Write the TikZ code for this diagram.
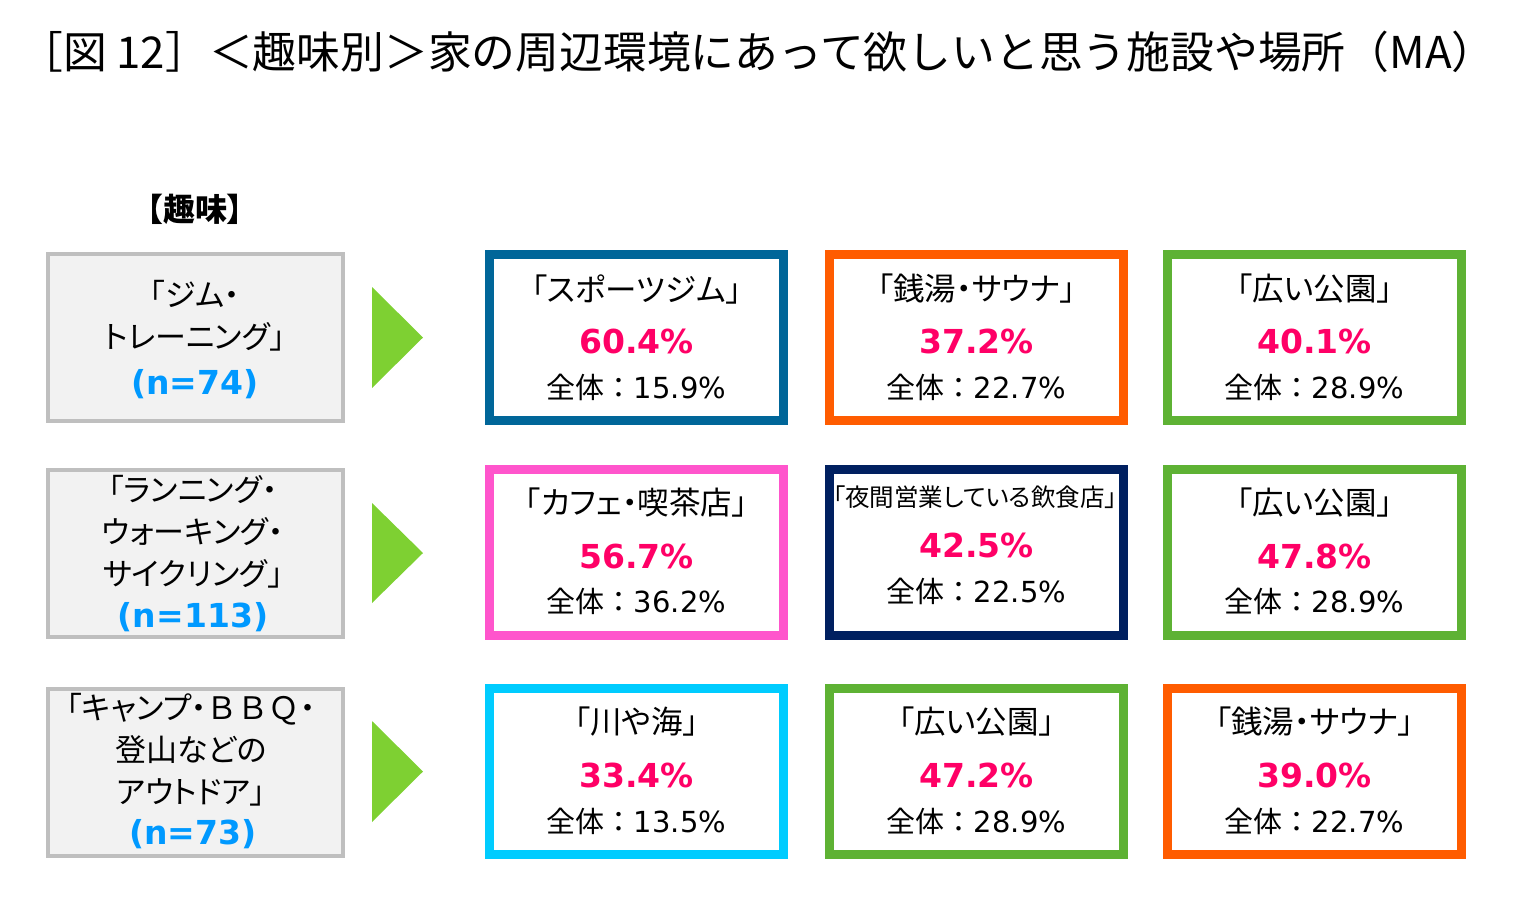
\documentclass[tikz,border=0pt]{standalone}
\usepackage{fontspec}
\setmainfont{Noto Sans CJK JP}[RawFeature=+palt]
\newfontfamily\fullfont{Noto Sans CJK JP}
\newfontfamily\numfont{DejaVu Sans}
\usetikzlibrary{positioning}
\definecolor{framegray}{RGB}{191,191,191}
\definecolor{fillgray}{RGB}{242,242,242}
\definecolor{arrowgreen}{RGB}{126,208,50}
\definecolor{frameblue}{RGB}{0,102,153}
\definecolor{frameorange}{RGB}{255,92,0}
\definecolor{framegreen}{RGB}{94,178,52}
\definecolor{framepink}{RGB}{255,85,204}
\definecolor{framenavy}{RGB}{0,32,96}
\definecolor{framecyan}{RGB}{0,204,255}
\definecolor{ratered}{RGB}{255,0,102}
\definecolor{countblue}{RGB}{0,153,255}

\begin{document}
\begin{tikzpicture}
[x=1pt, y=-1pt, font=\fontsize{30}{36}\selectfont,
% STYLES
% The title style is used for the heading line
title/.style={anchor=west, inner sep=0pt, font=\fullfont\fontsize{43.8}{52}\selectfont},
header/.style={inner sep=0pt, font=\bfseries\fontsize{32}{38}\selectfont},
% The hobby style is used to draw the grey boxes on the left
hobby/.style={rectangle, draw=framegray, fill=fillgray, line width=4pt, minimum width=295pt, minimum height=167pt, inner sep=0pt},
hobbytext/.style={inner sep=0pt, align=center, font=\fontsize{31}{42}\selectfont},
count/.style={inner sep=0pt, text=countblue, font=\numfont\bfseries\fontsize{33}{40}\selectfont},
% The result style is used to draw the framed boxes
result/.style={rectangle, draw=#1, fill=white, line width=9pt, minimum width=294pt, minimum height=166pt, inner sep=0pt},
place/.style={inner sep=0pt, font=\fontsize{31.5}{38}\selectfont},
rate/.style={inner sep=0pt, text=ratered, font=\numfont\bfseries\fontsize{33}{40}\selectfont},
total/.style={inner sep=0pt, font=\fullfont\fontsize{29}{35}\selectfont}]
\useasboundingbox (0,0) rectangle (1526,898);
% Title
\node [title] (title) at (19,52) {［図 12］＜趣味別＞家の周辺環境にあって欲しいと思う施設や場所（MA）};
\node [header] (header) at (195,209) {【趣味】};
% Draw hobbies
\node [hobby] (hobby1) at (195.5,337.5) {};
\node [hobby] (hobby2) at (195.5,553) {};
\node [hobby] (hobby3) at (195.5,772) {};
\node [hobbytext] (text1) at (195,316) {「ジム・\\トレーニング」};
\node [count] (count1) at (195,384) {(n=74)};
\node [hobbytext] (text2) at (193,532) {「ランニング・\\ウォーキング・\\サイクリング」};
\node [count] (count2) at (193,617) {(n=113)};
\node [hobbytext] (text3) at (191,750) {「キャンプ・{\fullfont ＢＢＱ}・\\登山などの\\アウトドア」};
\node [count] (count3) at (193,834) {(n=73)};
% Green arrows
\fill [arrowgreen] (372,287) -- (423,337.5) -- (372,388) -- cycle;
\fill [arrowgreen] (372,503) -- (423,553) -- (372,603) -- cycle;
\fill [arrowgreen] (372,721) -- (423,771.5) -- (372,822) -- cycle;
%%%%%%%%%%%%%%%
% Draw results
\node [result=frameblue] (gym) at (636.5,337.5) {};
\node [result=frameorange] (sauna1) at (976.5,337.5) {};
\node [result=framegreen] (park1) at (1314.5,337.5) {};
\node [result=framepink] (cafe) at (636.5,552.5) {};
\node [result=framenavy] (night) at (976.5,552.5) {};
\node [result=framegreen] (park2) at (1314.5,552.5) {};
\node [result=framecyan] (river) at (636.5,771) {};
\node [result=framegreen] (park3) at (976.5,771) {};
\node [result=frameorange] (sauna2) at (1314.5,771) {};
% gym
\node [place] (gym-place) at (636.5,289) {「スポーツジム」};
\node [rate] (gym-rate) at (636.5,341) {60.4\%};
\node [total] (gym-total) at (636.5,387) {全体：{\numfont 15.9\%}};
% sauna1
\node [place] (sauna1-place) at (976.5,289) {「銭湯・サウナ」};
\node [rate] (sauna1-rate) at (976.5,341) {37.2\%};
\node [total] (sauna1-total) at (976.5,387) {全体：{\numfont 22.7\%}};
% park1
\node [place] (park1-place) at (1314.5,289) {「広い公園」};
\node [rate] (park1-rate) at (1314.5,341) {40.1\%};
\node [total] (park1-total) at (1314.5,387) {全体：{\numfont 28.9\%}};
% cafe
\node [place] (cafe-place) at (636.5,503) {「カフェ・喫茶店」};
\node [rate] (cafe-rate) at (636.5,556) {56.7\%};
\node [total] (cafe-total) at (636.5,601) {全体：{\numfont 36.2\%}};
% night
\node [place, font=\fontsize{24.5}{30}\selectfont] (night-place) at (975,497) {「夜間営業している飲食店」};
\node [rate] (night-rate) at (976.5,545) {42.5\%};
\node [total] (night-total) at (976.5,591) {全体：{\numfont 22.5\%}};
% park2
\node [place] (park2-place) at (1314.5,503) {「広い公園」};
\node [rate] (park2-rate) at (1314.5,556) {47.8\%};
\node [total] (park2-total) at (1314.5,601) {全体：{\numfont 28.9\%}};
% river
\node [place] (river-place) at (636.5,722) {「川や海」};
\node [rate] (river-rate) at (636.5,775) {33.4\%};
\node [total] (river-total) at (636.5,821) {全体：{\numfont 13.5\%}};
% park3
\node [place] (park3-place) at (976.5,722) {「広い公園」};
\node [rate] (park3-rate) at (976.5,775) {47.2\%};
\node [total] (park3-total) at (976.5,821) {全体：{\numfont 28.9\%}};
% sauna2
\node [place] (sauna2-place) at (1314.5,722) {「銭湯・サウナ」};
\node [rate] (sauna2-rate) at (1314.5,775) {39.0\%};
\node [total] (sauna2-total) at (1314.5,821) {全体：{\numfont 22.7\%}};
\end{tikzpicture}
\end{document}
